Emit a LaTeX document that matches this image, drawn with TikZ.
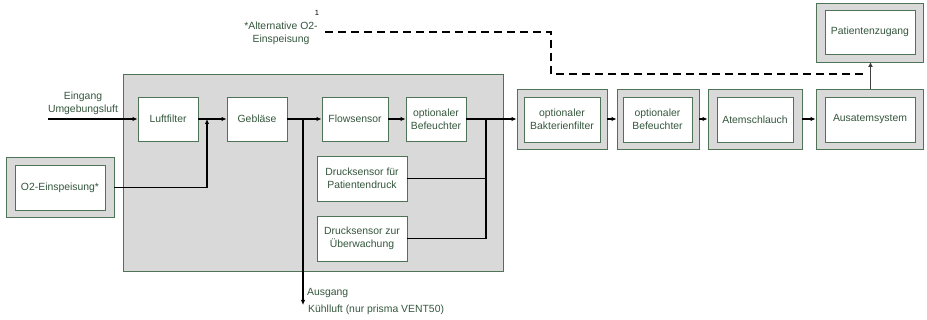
\documentclass[tikz,border=0pt]{standalone}
\usepackage{fontspec}
\setmainfont{Liberation Sans}
\usetikzlibrary{arrows.meta}
\definecolor{txtg}{HTML}{34563C}
\definecolor{brdg}{HTML}{4F7356}
\definecolor{fillg}{HTML}{D9D9D9}
\tikzset{
  x=1pt, y=-1pt,
  every node/.style={font=\fontsize{10.4}{13}\selectfont, text=txtg, inner sep=0pt, align=center},
  inbox/.style={draw=brdg, line width=0.9pt, fill=white},
  outbox/.style={draw=brdg, line width=0.9pt, fill=fillg},
  conn/.style={line width=1.1pt, draw=black},
  arr/.style={conn, -{Latex[length=5pt,width=4.5pt]}},
  lbl/.style={text=txtg},
}
\begin{document}
\begin{tikzpicture}
\useasboundingbox (0,0) rectangle (927,320);
% big grey housing
\node[outbox, minimum width=380pt, minimum height=197pt] (dev) at (313,172.5) {};
% inner boxes
\node[inbox, minimum width=60pt, minimum height=44pt] (lf) at (168,119) {Luftfilter};
\node[inbox, minimum width=60pt, minimum height=44pt] (gb) at (257,119) {Gebläse};
\node[inbox, minimum width=66pt, minimum height=44pt] (fs) at (355,119) {Flowsensor};
\node[inbox, minimum width=60pt, minimum height=44pt] (bf) at (436,119) {optionaler\\Befeuchter};
\node[inbox, minimum width=90pt, minimum height=45pt] (dp) at (362,178.5) {Drucksensor für\\Patientendruck};
\node[inbox, minimum width=90pt, minimum height=45pt] (du) at (362,238.5) {Drucksensor zur\\Überwachung};
% O2
\node[outbox, minimum width=108pt, minimum height=60pt] (o2o) at (60,187) {};
\node[inbox, minimum width=90pt, minimum height=45pt] (o2) at (60,187.5) {O2-Einspeisung*};
% right chain
\node[outbox, minimum width=90pt, minimum height=60pt] (bko) at (562,119) {};
\node[inbox, minimum width=76pt, minimum height=45pt] (bk) at (562,119.5) {optionaler\\Bakterienfilter};
\node[outbox, minimum width=82pt, minimum height=60pt] (bfo2) at (658,119) {};
\node[inbox, minimum width=69pt, minimum height=45pt] (bf2) at (657.5,119.5) {optionaler\\Befeuchter};
\node[outbox, minimum width=94pt, minimum height=60pt] (aso) at (755,119) {};
\node[inbox, minimum width=76pt, minimum height=45pt] (as) at (755,119.5) {Atemschlauch};
\node[outbox, minimum width=107pt, minimum height=60pt] (auo) at (869.5,119) {};
\node[inbox, minimum width=90pt, minimum height=45pt] (au) at (870,119.5) {Ausatemsystem};
\node[outbox, minimum width=107pt, minimum height=59pt] (pzo) at (869.5,32.5) {};
\node[inbox, minimum width=90pt, minimum height=44pt] (pz) at (870,32) {Patientenzugang};
% labels
\node[lbl] (ein) at (83,103.5) {Eingang\\Umgebungsluft};
\coordinate (einS) at (48,119);
\node[lbl] (alt) at (281,33.5) {*Alternative O2-\\Einspeisung};
\node[text=black, font=\fontsize{7.5}{8}\selectfont] (sup1) at (317,13) {1};
\node[lbl, anchor=west] (ausg) at (307,293) {Ausgang};
\node[lbl, anchor=west] (kuehl) at (308,310) {Kühlluft (nur prisma VENT50)};
\coordinate (jA) at (207,119);
\coordinate (jB) at (303,119);
\coordinate (jBe) at (303,305);
\coordinate (jC) at (486,119);
\coordinate (dS) at (325,32);
\coordinate (d1) at (551,32);
\coordinate (d2) at (551,74);
\coordinate (d3) at (866,74);
\coordinate (up1) at (870.5,89);
\coordinate (up2) at (870.5,62);
% connectors
\draw[arr] (einS) -- (lf.west);
\draw[conn] (lf.east) -- (jA);
\draw[arr] (jA) -- (gb.west);
\draw[arr] (o2o.east |- o2.east) -| (jA);
\draw[conn] (gb.east) -- (jB);
\draw[arr] (jB) -- (fs.west);
\draw[arr] (jB) -- (jBe);
\draw[arr] (fs.east) -- (bf.west);
\draw[conn] (bf.east) -- (jC);
\draw[arr] (jC) -- (bko.west);
\draw[conn] (dp.east) -| (jC);
\draw[conn] (du.east) -| (jC);
\draw[arr] (bko.east) -- (bfo2.west);
\draw[arr] (bfo2.east) -- (aso.west);
\draw[arr] (aso.east) -- (auo.west);
\draw[line width=1.8pt, draw=black!75, -{Latex[length=5pt,width=5pt,fill=black]}] (up1) -- (up2);
\draw[line width=1.2pt, dash pattern=on 8pt off 5pt] (dS) -- (d1) -- (d2) -- (d3);
\end{tikzpicture}
\end{document}
